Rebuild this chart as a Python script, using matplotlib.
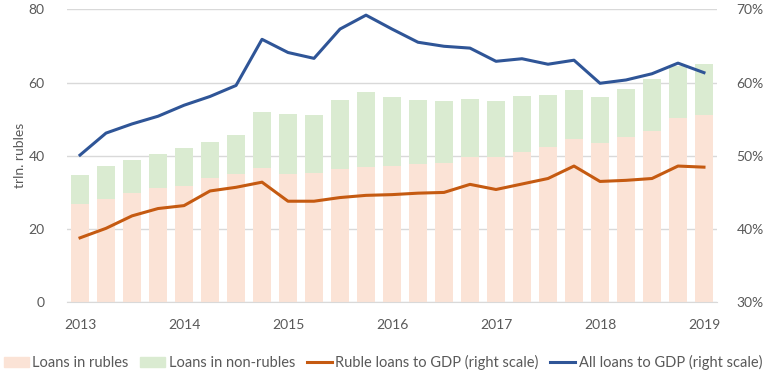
import matplotlib
matplotlib.use("Agg")
import matplotlib.pyplot as plt
from matplotlib.patches import Patch
from matplotlib.lines import Line2D
import numpy as np

plt.rcParams['font.family'] = ['Lato', 'DejaVu Sans']

quarters = list(range(25))
tick_pos = [0, 4, 8, 12, 16, 20, 24]
tick_labels = ['2013', '2014', '2015', '2016', '2017', '2018', '2019']

loans_rub = [26.9, 28.2, 29.9, 31.2, 31.8, 33.9, 35.0, 36.7, 35.0, 35.3, 36.4, 37.0, 37.2,
             37.8, 38.0, 39.7, 39.7, 41.0, 42.4, 44.6, 43.5, 45.1, 46.8, 50.4, 51.1]
loans_total = [34.8, 37.2, 38.9, 40.5, 42.1, 43.8, 45.7, 52.0, 51.4, 51.2, 55.2, 57.4, 56.1,
               55.2, 55.0, 55.5, 55.0, 56.3, 56.6, 58.0, 56.1, 58.2, 61.0, 64.5, 65.1]
loans_nonrub = [t - r for t, r in zip(loans_total, loans_rub)]

ruble_gdp = [38.8, 40.1, 41.8, 42.8, 43.2, 45.2, 45.7, 46.4, 43.8, 43.8, 44.3, 44.6, 44.7,
             44.9, 45.0, 46.1, 45.4, 46.15, 46.9, 48.6, 46.5, 46.65, 46.9, 48.6, 48.45]
all_gdp = [50.1, 53.1, 54.35, 55.4, 56.9, 58.1, 59.6, 65.9, 64.1, 63.3, 67.3, 69.2, 67.3,
           65.5, 64.95, 64.7, 62.9, 63.25, 62.5, 63.05, 59.9, 60.35, 61.2, 62.65, 61.35]

c_rub = '#FBE3D6'
c_non = '#DAEBD1'
c_orange = '#C55A11'
c_blue = '#2F5597'
txt = '#595959'
grid_c = '#D9D9D9'

fig = plt.figure(figsize=(7.66, 3.82), dpi=100)
ax = fig.add_axes([0.0875, 0.2086, 0.8485, 0.7671])
ax.bar(quarters, loans_rub, width=0.66, color=c_rub, zorder=2)
ax.bar(quarters, loans_nonrub, bottom=loans_rub, width=0.66, color=c_non, zorder=2)
ax.set_ylim(0, 80)
ax.set_xlim(-0.5, 24.5)
ax.set_yticks([0, 20, 40, 60, 80])
ax.yaxis.grid(True, color=grid_c, linewidth=1, zorder=0)
ax.set_axisbelow(True)
for s in ['top', 'right', 'left']:
    ax.spines[s].set_visible(False)
ax.spines['bottom'].set_color(grid_c)
ax.tick_params(axis='both', length=0, labelsize=10, colors=txt)
ax.tick_params(axis='y', pad=16)
ax.tick_params(axis='x', pad=12)
ax.set_xticks(tick_pos)
ax.set_xticklabels(tick_labels)
ax.set_ylabel('trln. rubles', color=txt, fontsize=10, labelpad=2)

ax2 = ax.twinx()
ax2.plot(quarters, ruble_gdp, color=c_orange, linewidth=2.2, zorder=3)
ax2.plot(quarters, all_gdp, color=c_blue, linewidth=2.2, zorder=3)
ax2.set_ylim(30, 70)
ax2.set_yticks([30, 40, 50, 60, 70])
ax2.set_yticklabels(['30%', '40%', '50%', '60%', '70%'])
for s in ['top', 'right', 'left', 'bottom']:
    ax2.spines[s].set_visible(False)
ax2.tick_params(axis='y', length=0, labelsize=10, colors=txt, pad=14)

handles = [Patch(color=c_rub), Patch(color=c_non),
           Line2D([0], [0], color=c_orange, lw=2.2), Line2D([0], [0], color=c_blue, lw=2.2)]
labels = ['Loans in rubles', 'Loans in non-rubles', 'Ruble loans to GDP (right scale)',
          'All loans to GDP (right scale)']
leg = fig.legend(handles, labels, loc='center', bbox_to_anchor=(0.5, 0.05), ncol=4,
                 frameon=False, fontsize=10.5, handlelength=1.7, handletextpad=0.25,
                 columnspacing=0.8)
for t in leg.get_texts():
    t.set_color(txt)

fig.savefig('out.png', dpi=100)
